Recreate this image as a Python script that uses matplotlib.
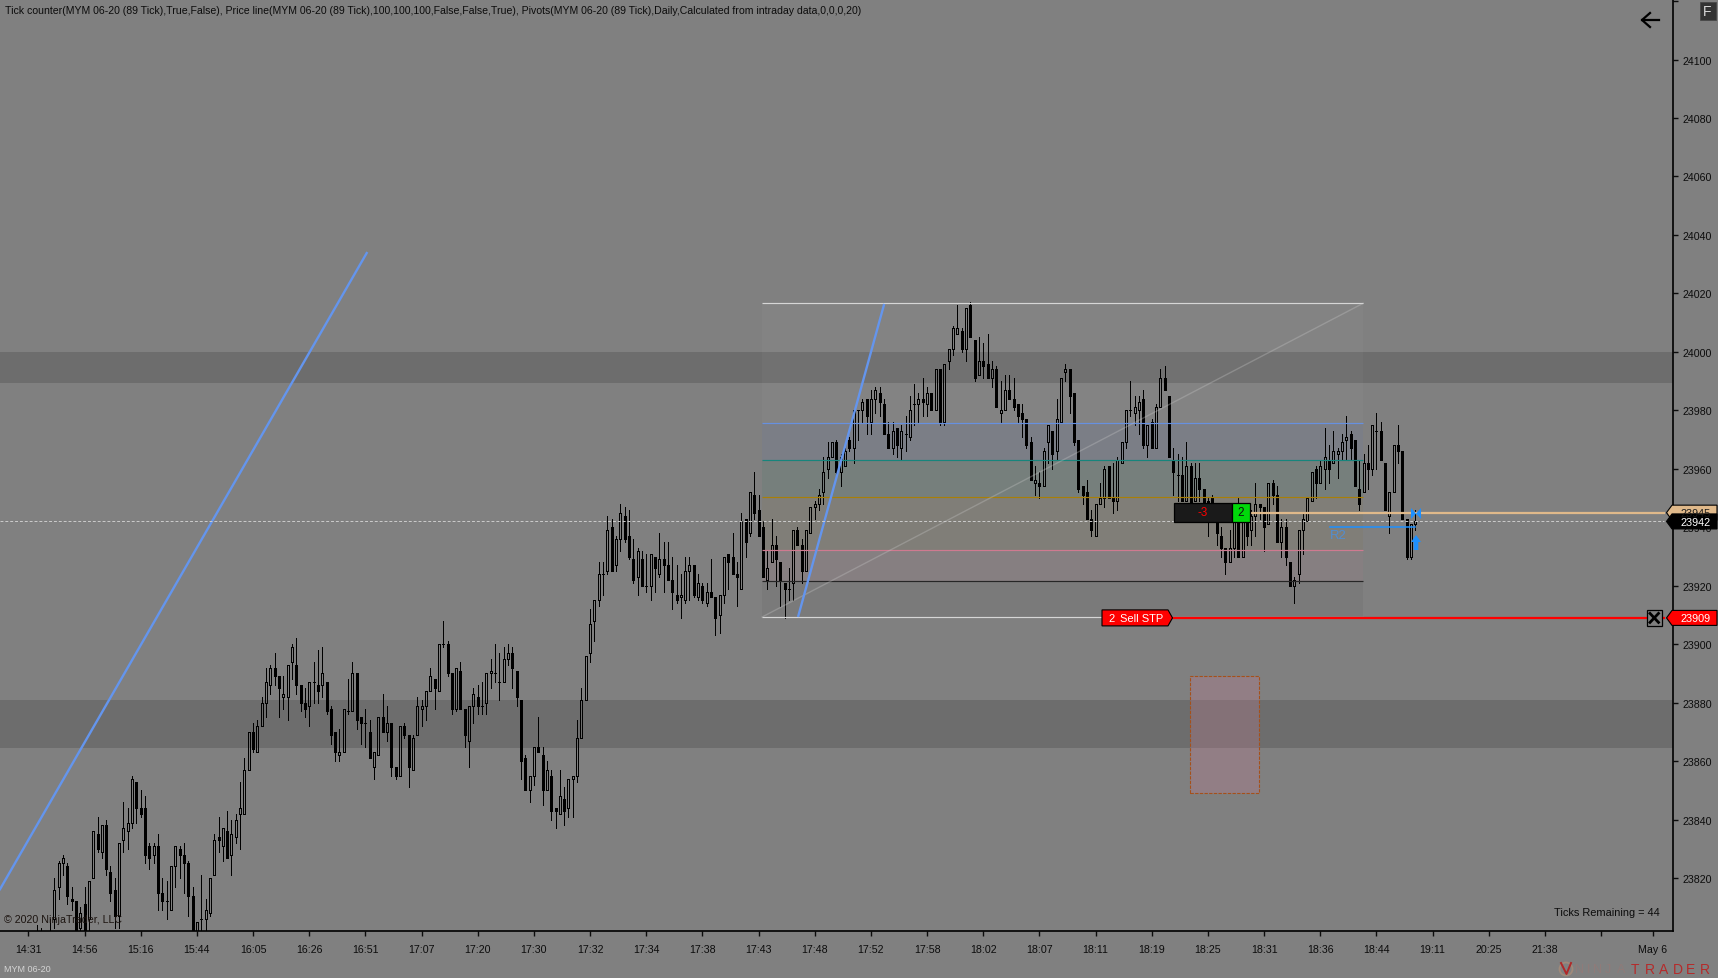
import matplotlib
matplotlib.use("Agg")
import matplotlib.pyplot as plt
from matplotlib.patches import Polygon, Rectangle, Circle

plt.rcParams['font.family'] = ['Liberation Sans', 'DejaVu Sans']

# candles, index 2 to 321 (13 bars between two time labels)
first_bar = 2
opens = [
    23800,23799,23797,23798,23806,23817,23825,23824,23813,23812,
    23803,23811,23806,23820,23835,23829,23838,23822,23816,23807,
    23833,23836,23839,23853,23844,23844,23831,23828,23831,23815,
    23812,23809,23824,23830,23828,23825,23814,23800,23806,23806,
    23808,23821,23834,23831,23836,23828,23834,23842,23842,23857,
    23870,23863,23872,23880,23886,23892,23889,23882,23882,23894,
    23893,23886,23880,23879,23887,23886,23886,23887,23878,23870,
    23862,23863,23877,23877,23890,23875,23873,23870,23858,23862,
    23875,23870,23873,23858,23855,23872,23869,23857,23869,23878,
    23879,23884,23888,23884,23900,23900,23890,23878,23891,23878,
    23867,23879,23882,23879,23880,23890,23890,23887,23887,23895,
    23897,23891,23881,23861,23850,23855,23865,23862,23850,23855,
    23844,23842,23847,23844,23854,23855,23868,23881,23897,23908,
    23915,23924,23925,23940,23927,23936,23944,23937,23929,23923,
    23929,23920,23920,23930,23924,23929,23927,23922,23917,23916,
    23915,23925,23927,23916,23920,23914,23918,23916,23910,23917,
    23931,23930,23924,23919,23943,23938,23951,23946,23940,23922,
    23928,23934,23928,23921,23919,23921,23939,23934,23925,23938,
    23947,23948,23952,23960,23964,23969,23959,23961,23970,23967,
    23980,23980,23984,23976,23984,23986,23982,23972,23967,23974,
    23967,23972,23971,23982,23982,23984,23982,23986,23980,23994,
    23976,23997,24001,24006,24007,24001,24016,24004,23992,23997,
    23996,23991,23994,23979,23980,23987,23984,23982,23979,23977,
    23969,23955,23955,23954,23969,23973,23966,23976,23993,23994,
    23986,23970,23954,23952,23943,23937,23948,23950,23961,23950,
    23949,23962,23969,23980,23979,23980,23984,23968,23976,23967,
    23981,23991,23985,23963,23958,23958,23949,23961,23949,23957,
    23953,23949,23950,23945,23937,23933,23928,23933,23948,23930,
    23946,23939,23944,23948,23947,23941,23955,23951,23935,23940,
    23928,23920,23924,23939,23942,23949,23960,23955,23960,23963,
    23962,23965,23966,23970,23972,23970,23953,23952,23962,23960,
    23973,23973,23962,23944,23952,23968,23966,23943,23930,23941]
highs = [
    23804,23803,23800,23806,23820,23826,23828,23825,23817,23812,
    23810,23817,23819,23836,23841,23838,23840,23824,23820,23832,
    23846,23844,23855,23853,23850,23848,23832,23832,23835,23820,
    23819,23824,23831,23831,23832,23826,23817,23805,23821,23813,
    23820,23835,23841,23837,23843,23840,23842,23853,23861,23870,
    23873,23874,23882,23892,23893,23897,23889,23889,23893,23900,
    23902,23886,23885,23887,23894,23898,23899,23887,23879,23870,
    23871,23878,23888,23894,23890,23875,23878,23874,23863,23875,
    23883,23879,23873,23858,23872,23873,23869,23869,23882,23881,
    23884,23892,23888,23900,23908,23901,23890,23892,23894,23878,
    23879,23885,23886,23887,23890,23895,23900,23897,23899,23900,
    23899,23891,23881,23862,23855,23865,23875,23865,23860,23857,
    23844,23857,23851,23854,23855,23874,23885,23896,23912,23915,
    23928,23928,23944,23943,23937,23948,23947,23946,23936,23933,
    23932,23931,23931,23930,23938,23935,23935,23930,23927,23924,
    23930,23930,23927,23924,23921,23921,23929,23916,23917,23930,
    23931,23938,23928,23945,23943,23952,23959,23951,23942,23932,
    23943,23937,23928,23921,23926,23939,23940,23936,23939,23947,
    23949,23953,23964,23969,23969,23970,23965,23967,23971,23980,
    23980,23984,23984,23987,23988,23988,23984,23976,23976,23974,
    23975,23978,23985,23989,23986,23991,23988,23986,23994,23994,
    23996,24001,24009,24016,24008,24015,24017,24004,24005,24003,
    24006,23997,23995,23990,23992,23992,23991,23982,23982,23977,
    23971,23961,23959,23967,23975,23973,23984,23991,23996,23994,
    23986,23970,23954,23956,23946,23948,23955,23961,23961,23962,
    23964,23969,23980,23990,23985,23985,23987,23975,23977,23982,
    23994,23995,23985,23967,23965,23964,23969,23962,23962,23962,
    23953,23950,23951,23946,23940,23933,23939,23947,23950,23946,
    23948,23946,23955,23948,23947,23955,23956,23954,23943,23943,
    23928,23923,23939,23945,23950,23959,23961,23963,23974,23968,
    23973,23967,23972,23978,23973,23970,23963,23965,23968,23975,
    23979,23976,23962,23952,23968,23975,23966,23943,23941,23946]
lows = [
    23795,23795,23794,23795,23803,23813,23821,23811,23809,23795,
    23800,23797,23802,23820,23829,23827,23821,23812,23803,23803,
    23829,23830,23837,23839,23841,23825,23823,23825,23809,23809,
    23806,23809,23817,23820,23815,23807,23798,23798,23802,23802,
    23807,23821,23829,23826,23827,23821,23832,23830,23842,23857,
    23863,23863,23872,23875,23883,23886,23875,23878,23874,23888,
    23883,23877,23875,23872,23880,23880,23882,23876,23866,23860,
    23860,23863,23876,23877,23871,23866,23865,23861,23854,23862,
    23870,23867,23855,23854,23855,23868,23851,23857,23869,23872,
    23874,23884,23878,23884,23899,23889,23876,23877,23878,23865,
    23858,23873,23876,23876,23876,23885,23887,23881,23887,23893,
    23885,23879,23854,23850,23846,23852,23863,23845,23850,23840,
    23837,23842,23838,23841,23841,23853,23868,23881,23894,23901,
    23913,23917,23924,23925,23925,23932,23935,23929,23921,23917,
    23920,23918,23915,23918,23923,23918,23922,23912,23914,23909,
    23914,23915,23916,23915,23914,23913,23916,23903,23904,23914,
    23919,23924,23913,23919,23930,23937,23943,23937,23923,23919,
    23928,23920,23913,23909,23915,23915,23934,23921,23925,23938,
    23943,23946,23948,23957,23964,23958,23954,23961,23966,23962,
    23970,23976,23972,23972,23979,23978,23972,23967,23965,23964,
    23963,23966,23970,23975,23976,23978,23978,23980,23980,23975,
    23975,23994,23999,24006,24000,23997,24005,23990,23992,23991,
    23991,23988,23981,23976,23980,23984,23980,23976,23971,23967,
    23956,23951,23950,23954,23962,23960,23963,23976,23990,23979,
    23968,23952,23948,23943,23937,23937,23948,23947,23950,23945,
    23946,23962,23967,23978,23975,23972,23967,23964,23967,23967,
    23981,23987,23964,23951,23949,23949,23949,23943,23949,23949,
    23944,23937,23943,23934,23930,23924,23928,23930,23930,23930,
    23934,23934,23937,23943,23932,23941,23948,23935,23930,23927,
    23920,23914,23921,23931,23942,23949,23950,23955,23953,23955,
    23962,23957,23963,23963,23963,23954,23946,23952,23953,23958,
    23960,23963,23946,23938,23952,23962,23943,23929,23929,23939]
closes = [
    23798,23797,23796,23800,23816,23825,23827,23814,23812,23798,
    23808,23800,23819,23836,23830,23838,23823,23815,23807,23832,
    23837,23839,23854,23844,23842,23828,23827,23831,23815,23812,
    23812,23824,23831,23828,23825,23814,23801,23805,23806,23809,
    23820,23833,23833,23837,23827,23835,23840,23844,23857,23870,
    23864,23872,23880,23887,23892,23889,23885,23883,23893,23899,
    23886,23880,23878,23887,23887,23884,23890,23877,23869,23863,
    23863,23878,23877,23890,23874,23873,23873,23861,23863,23875,
    23870,23873,23858,23855,23872,23869,23858,23868,23879,23879,
    23884,23889,23885,23900,23900,23890,23878,23892,23878,23869,
    23879,23883,23879,23879,23890,23891,23890,23887,23895,23897,
    23892,23882,23860,23850,23855,23865,23863,23850,23857,23843,
    23843,23848,23843,23854,23855,23868,23881,23896,23907,23915,
    23924,23924,23939,23925,23936,23945,23936,23930,23922,23932,
    23920,23920,23931,23926,23929,23927,23922,23918,23915,23917,
    23925,23927,23917,23921,23915,23918,23916,23909,23917,23930,
    23928,23924,23923,23942,23935,23952,23945,23937,23923,23926,
    23934,23929,23922,23919,23919,23939,23934,23925,23939,23947,
    23948,23951,23959,23964,23969,23959,23964,23966,23967,23980,
    23980,23983,23978,23984,23987,23983,23972,23967,23973,23968,
    23973,23972,23980,23982,23984,23983,23986,23980,23994,23976,
    23996,24001,24008,24008,24001,24015,24005,23991,23997,23995,
    23991,23994,23981,23980,23987,23984,23981,23978,23977,23968,
    23956,23956,23954,23966,23975,23965,23977,23991,23994,23985,
    23969,23953,23951,23943,23939,23948,23950,23960,23950,23949,
    23963,23969,23980,23980,23981,23983,23968,23975,23967,23981,
    23991,23987,23964,23959,23958,23949,23961,23947,23957,23953,
    23947,23942,23945,23938,23933,23928,23933,23946,23930,23945,
    23937,23944,23948,23947,23940,23955,23951,23935,23940,23930,
    23920,23922,23939,23943,23950,23959,23955,23961,23964,23960,
    23966,23966,23969,23971,23967,23954,23948,23962,23960,23975,
    23973,23963,23946,23952,23968,23966,23943,23930,23941,23942]

time_labels = ["14:31","14:56","15:16","15:44","16:05","16:26","16:51","17:07","17:20","17:30",
               "17:32","17:34","17:38","17:43","17:48","17:52","17:58","18:02","18:07","18:11",
               "18:19","18:25","18:31","18:36","18:44","19:11","20:25","21:38","","May 6"]
time_bars = [13 * k for k in range(29)] + [376]
price_ticks = list(range(23820, 24121, 20))

# shaded zones
zones = [(23989.5, 24000), (23864.5, 23881)]
# fibonacci box
fib_left, fib_right = 169.8, 308.9
fib_levels = [24016.6, 23975.5, 23962.9, 23950.2, 23932.1, 23921.6, 23909.3]
fib_lines = ["#d6d6d6", "#6690e0", "#17857c", "#a87f08", "#cf7a90", "#262626", "#d6d6d6"]
fib_fills = [("#ffffff", .03), ("#7b7e86", 1), ("#767f7c", 1), ("#807e78", 1), ("#867f81", 1), ("#7a7a7a", 1)]
# trend lines
trend1_x, trend1_y = [-6.57, 78.3], [23816.2, 24033.8]
trend2_x, trend2_y = [178.2, 198.0], [23909.7, 24016.0]
# order box
rect_x, rect_y = [268.8, 284.8], [23849, 23889]
last_price, entry_price, stop_price, r2_price = 23942, 23945, 23909, 23940

W, H = 1718, 979
AX_R, AX_B = 1673.3, 932.3
fig = plt.figure(figsize=(W / 100, H / 100), dpi=100, facecolor="#808080")
ax = fig.add_axes([0, 1 - AX_B / H, AX_R / W, AX_B / H], facecolor="#808080")
ax.set_xlim(-6.57, 380.7)
ax.set_ylim(23801.8, 24120.7)

for lo, hi in zones:
    ax.axhspan(lo, hi, color="black", alpha=.14, lw=0, zorder=1)

for i in range(6):
    c, a = fib_fills[i]
    ax.fill_between([fib_left, fib_right], fib_levels[i + 1], fib_levels[i], color=c, alpha=a, lw=0, zorder=1.5)

# candles
px1 = .72
bars = list(range(first_bar, first_bar + len(opens)))
tops = [max(o, c) for o, c in zip(opens, closes)]
bots = [min(o, c) for o, c in zip(opens, closes)]
ax.vlines(bars, tops, highs, color="black", lw=px1, zorder=3, antialiased=False)
ax.vlines(bars, lows, bots, color="black", lw=px1, zorder=3, antialiased=False)
up = [(b, t, t - m) for b, t, m, o, c in zip(bars, tops, bots, opens, closes) if c >= o]
dn = [(b, t, t - m) for b, t, m, o, c in zip(bars, tops, bots, opens, closes) if c < o]
bw = 2 / 4.321
ax.bar([u[0] for u in up], [u[2] for u in up], bottom=[u[1] - u[2] for u in up], width=bw,
       facecolor="none", edgecolor="black", lw=px1, zorder=3, antialiased=False)
ax.bar([d[0] for d in dn], [d[2] for d in dn], bottom=[d[1] - d[2] for d in dn], width=bw,
       facecolor="black", edgecolor="black", lw=px1, zorder=3, antialiased=False)

# fib lines and trend lines sit over the candles
for lvl, c in zip(fib_levels, fib_lines):
    ax.plot([fib_left, fib_right], [lvl, lvl], color=c, lw=.85, zorder=4, solid_capstyle="butt")
ax.plot([fib_left, fib_right], [fib_levels[-1], fib_levels[0]], color="#c8c8c8", lw=1, alpha=.32, zorder=4)
ax.plot(trend1_x, trend1_y, color="#6495ed", lw=1.7, zorder=4)
ax.plot(trend2_x, trend2_y, color="#6495ed", lw=1.7, zorder=4)
ax.add_patch(Rectangle((rect_x[0], rect_y[0]), rect_x[1] - rect_x[0], rect_y[1] - rect_y[0],
                       facecolor=(188 / 255, 123 / 255, 145 / 255, .3), edgecolor="#a5501a", lw=.8,
                       linestyle=(0, (3, 1.2)), zorder=2))

ax.plot([-6.57, 378.6], [last_price, last_price], color="#cccccc", lw=.7, linestyle=(0, (3, 2)), zorder=5)
ax.plot([282.7, 378.6], [entry_price, entry_price], color="#e0b98a", lw=1.6, zorder=5)
ax.plot([264, 378.6], [stop_price, stop_price], color="#ff0000", lw=1.6, zorder=5)
ax.plot([301.2, 321], [r2_price, r2_price], color="#1e90ff", lw=1.1, zorder=5)

# axes
for s in ("top", "left"):
    ax.spines[s].set_visible(False)
for s in ("bottom", "right"):
    ax.spines[s].set_linewidth(1.2)
ax.yaxis.tick_right()
ax.set_xticks(time_bars)
ax.set_xticklabels(time_labels)
ax.set_yticks(price_ticks)
ax.set_yticklabels([str(p) if p < 24120 else "" for p in price_ticks])
ax.tick_params(axis="x", length=3.5, width=1, labelsize=7.7, pad=6, colors="#0c0c0c")
ax.tick_params(axis="y", length=3.5, width=1, labelsize=7.7, pad=3, colors="#0c0c0c")

# overlay in pixels for the platform decorations
ov = fig.add_axes([0, 0, 1, 1], facecolor="none")
ov.set_xlim(0, W)
ov.set_ylim(H, 0)
ov.axis("off")


def price_y(p):
    return H - ax.transData.transform((0, p))[1]


def flag(y, color, txt, txt_color):
    ov.add_patch(Polygon([(1666.5, y), (1672, y - 7.5), (1717, y - 7.5), (1717, y + 7.5), (1672, y + 7.5)],
                         facecolor=color, edgecolor="black", lw=.8, zorder=6))
    ov.text(1696, y + .3, txt, ha="center", va="center", fontsize=7.8, color=txt_color, zorder=7)


flag(price_y(entry_price), "#e0b98a", str(entry_price), "#1a1a1a")
flag(price_y(last_price), "black", str(last_price), "white")
flag(price_y(stop_price), "#ff0000", str(stop_price), "white")

# header text
ov.text(5, 11, "Tick counter(MYM 06-20 (89 Tick),True,False), Price line(MYM 06-20 (89 Tick),100,100,100,False,False,True), "
        "Pivots(MYM 06-20 (89 Tick),Daily,Calculated from intraday data,0,0,0,20)",
        fontsize=7.58, color="#0c0c0c", va="center")
ov.text(4, 920, "\u00a9 2020 NinjaTrader, LLC", fontsize=7.7, color="#1c1410", va="center")
ov.text(1660, 913.5, "Ticks Remaining = 44", fontsize=7.9, color="#0c0c0c", va="center", ha="right")
ov.text(4, 969.5, "MYM 06-20", fontsize=6.5, color="#d4d4d4", va="center")

# stop order tag
ysl = price_y(stop_price)
ov.add_patch(Polygon([(1102, ysl - 8), (1168, ysl - 8), (1172.5, ysl), (1168, ysl + 8), (1102, ysl + 8)],
                     facecolor="#ff0000", edgecolor="black", lw=.8, zorder=6))
ov.text(1108, ysl, "2", color="white", fontsize=8, va="center", zorder=7)
ov.text(1120, ysl, "Sell STP", color="white", fontsize=8, va="center", zorder=7)

# cancel box
ov.add_patch(Rectangle((1646.5, ysl - 8), 15.5, 16, facecolor="#808080", edgecolor="black", lw=.9, zorder=6))
ov.plot([1650, 1658.5], [ysl - 4.5, ysl + 4.5], color="black", lw=2, zorder=7)
ov.plot([1650, 1658.5], [ysl + 4.5, ysl - 4.5], color="black", lw=2, zorder=7)

# position box
ov.add_patch(Rectangle((1173.5, 503.5), 58, 19.5, facecolor="#1a1a1a", edgecolor="black", lw=.9, zorder=6))
ov.add_patch(Rectangle((1231.5, 503.5), 18.5, 19.5, facecolor="#00d80a", edgecolor="black", lw=.9, zorder=6))
ov.text(1203, 513.5, "-3", color="#ff0000", fontsize=8.4, ha="center", va="center", zorder=7)
ov.text(1241, 513.5, "2", color="#101010", fontsize=8.4, ha="center", va="center", zorder=7)

# R2, arrow, bowtie
ov.text(1330, 536, "R2", color="#4a90e0", fontsize=9.4, va="center", zorder=7, alpha=.85)
ov.add_patch(Polygon([(1416, 536), (1421, 543), (1418.3, 543), (1418.3, 551), (1413.7, 551), (1413.7, 543), (1411, 543)],
                     facecolor="#1e90ff", lw=0, zorder=7))
ov.add_patch(Polygon([(1411, 509), (1416, 514.5), (1411, 520)], facecolor="#1e90ff", lw=0, zorder=7))
ov.add_patch(Polygon([(1421, 509), (1416, 514.5), (1421, 520)], facecolor="#1e90ff", lw=0, zorder=7))

# back arrow and F button
ov.plot([1642, 1659], [21, 21], color="black", lw=1.6)
ov.plot([1650, 1642, 1650], [14, 21, 28], color="black", lw=1.6)
ov.add_patch(Rectangle((1699.5, 2.5), 16.5, 18, facecolor="#333333", edgecolor="#444444", lw=.5))
ov.text(1707.5, 11.5, "F", color="#d8d8d8", fontsize=10, ha="center", va="center")

# logo
ov.add_patch(Circle((1566, 970), 6.5, facecolor="none", edgecolor="#a08a7a", lw=1.3))
ov.plot([1561, 1566.5, 1571], [964, 975, 964], color="#b02828", lw=1.4)
x = 1575
for ch in "NINJA":
    ov.text(x, 970, ch, color="#8f7b79", fontsize=9, va="center", ha="left")
    x += 6 if ch == "I" else 12
x = 1631
for ch in "TRADER":
    ov.text(x, 970, ch, color="#b52b2b", fontsize=10, va="center", ha="left")
    x += 13.8

fig.savefig("out.png", dpi=100, facecolor="#808080")
